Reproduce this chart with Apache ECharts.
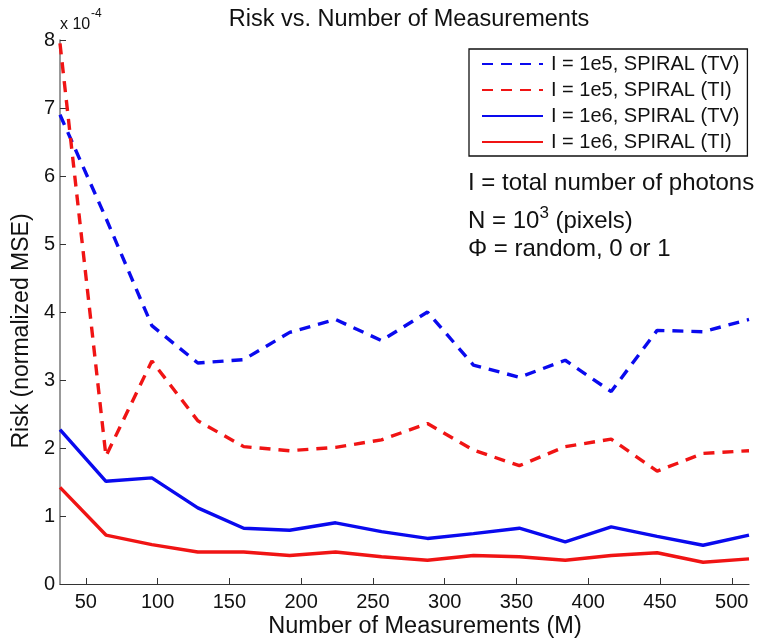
<!DOCTYPE html>
<html>
<head>
<meta charset="utf-8">
<script src="https://cdn.jsdelivr.net/npm/echarts@6/dist/echarts.min.js"></script>
<style>
html,body{margin:0;padding:0;background:#fff;}
#chart{width:757px;height:643px;}
</style>
</head>
<body>
<div id="chart"></div>
<script>
// Number of measurements M
const measurements = [32, 64, 96, 128, 160, 192, 224, 256, 288, 320, 352, 384, 416, 448, 480, 512];
// Risk values, in units of 1e-4
const tv1e5 = [6.9, 5.38, 3.8, 3.25, 3.3, 3.7, 3.89, 3.58, 4.0, 3.22, 3.04, 3.29, 2.83, 3.73, 3.71, 3.89];
const ti1e5 = [7.95, 1.88, 3.28, 2.4, 2.02, 1.96, 2.01, 2.12, 2.36, 1.97, 1.74, 2.02, 2.13, 1.66, 1.92, 1.96];
const tv1e6 = [2.27, 1.51, 1.56, 1.12, 0.82, 0.79, 0.9, 0.77, 0.67, 0.74, 0.82, 0.62, 0.84, 0.7, 0.57, 0.72];
const ti1e6 = [1.42, 0.72, 0.58, 0.47, 0.47, 0.42, 0.47, 0.4, 0.35, 0.42, 0.4, 0.35, 0.42, 0.46, 0.32, 0.37];
const seriesNames = ['I = 1e5, SPIRAL (TV)', 'I = 1e5, SPIRAL (TI)', 'I = 1e6, SPIRAL (TV)', 'I = 1e6, SPIRAL (TI)'];
const xTicks = [50, 100, 150, 200, 250, 300, 350, 400, 450, 500];
const yTicks = [0, 1, 2, 3, 4, 5, 6, 7, 8];

const FONT = '"Liberation Sans", Arial, Helvetica, sans-serif';
const BLUE = '#0a0aee';
const RED = '#f01414';
const INK = '#111111';

function pairs(ys) { return measurements.map((m, i) => [m, ys[i]]); }

function mk(name, ys, color, dashed) {
  return {
    name: name,
    type: 'line',
    data: pairs(ys),
    symbol: 'none',
    showSymbol: false,
    smooth: false,
    animation: false,
    itemStyle: { color: color },
    lineStyle: { color: color, width: 3.4, type: dashed ? [11, 8] : 'solid' }
  };
}

const chart = echarts.init(document.getElementById('chart'), null, { renderer: 'canvas' });
chart.setOption({
  backgroundColor: '#ffffff',
  animation: false,
  textStyle: { fontFamily: FONT },
  grid: { left: 60, right: 8, top: 40, bottom: 59, containLabel: false },
  legend: {
    orient: 'vertical',
    left: 469, top: 49,
    data: seriesNames,
    backgroundColor: '#fff',
    borderColor: INK, borderWidth: 1.3,
    padding: [5, 8, 4, 12],
    itemWidth: 61, itemHeight: 18, itemGap: 6,
    itemStyle: { opacity: 0 },
    textStyle: { fontFamily: FONT, fontSize: 20, lineHeight: 20, color: INK, padding: [0, 0, 0, 3] }
  },
  xAxis: {
    type: 'value', min: 32, max: 512,
    axisLine: { show: true, lineStyle: { color: '#333', width: 1.2 } },
    axisTick: { show: true, inside: true, length: 6, customValues: xTicks, lineStyle: { color: '#333' } },
    axisLabel: { customValues: xTicks, fontFamily: FONT, fontSize: 20, color: INK, margin: 8 },
    splitLine: { show: false }
  },
  yAxis: {
    type: 'value', min: 0, max: 8, interval: 1,
    axisLine: { show: true, lineStyle: { color: '#777', width: 1.5 } },
    axisTick: { show: true, inside: true, length: 6, lineStyle: { color: '#333' } },
    axisLabel: { fontFamily: FONT, fontSize: 20, color: INK, margin: 5 },
    splitLine: { show: false }
  },
  series: [
    mk(seriesNames[0], tv1e5, BLUE, true),
    mk(seriesNames[1], ti1e5, RED, true),
    mk(seriesNames[2], tv1e6, BLUE, false),
    mk(seriesNames[3], ti1e6, RED, false)
  ],
  graphic: [
    {
      type: 'text', x: 409, y: 20, silent: true,
      style: { text: 'Risk vs. Number of Measurements', fontFamily: FONT, fontSize: 23.5, fill: INK,
               align: 'center', verticalAlign: 'middle' }
    },
    {
      type: 'text', x: 425, y: 627, silent: true,
      style: { text: 'Number of Measurements (M)', fontFamily: FONT, fontSize: 23.5, fill: INK,
               align: 'center', verticalAlign: 'middle' }
    },
    {
      type: 'text', x: 22, y: 331, rotation: Math.PI / 2, silent: true,
      style: { text: 'Risk (normalized MSE)', fontFamily: FONT, fontSize: 23, fill: INK,
               align: 'center', verticalAlign: 'middle' }
    },
    {
      type: 'text', x: 60, y: 25, silent: true,
      style: { text: 'x 10', fontFamily: FONT, fontSize: 16, fill: INK, align: 'left', verticalAlign: 'middle' }
    },
    {
      type: 'text', x: 91, y: 14, silent: true,
      style: { text: '-4', fontFamily: FONT, fontSize: 12, fill: INK, align: 'left', verticalAlign: 'middle' }
    },
    {
      type: 'text', x: 468, y: 183, silent: true,
      style: { text: 'I = total number of photons', fontFamily: FONT, fontSize: 24, fill: INK, verticalAlign: 'middle' }
    },
    {
      type: 'text', x: 468, y: 217, silent: true,
      style: {
        text: '{a|N = 10}{s|3}{a| (pixels)}',
        verticalAlign: 'middle',
        rich: {
          a: { fontFamily: FONT, fontSize: 24, fill: INK, padding: [8, 0, 0, 0] },
          s: { fontFamily: FONT, fontSize: 17, fill: INK, padding: [0, 0, 7, 0] }
        }
      }
    },
    {
      type: 'text', x: 468, y: 249, silent: true,
      style: { text: 'Φ = random, 0 or 1', fontFamily: FONT, fontSize: 24, fill: INK, verticalAlign: 'middle' }
    }
  ]
});
</script>
</body>
</html>
